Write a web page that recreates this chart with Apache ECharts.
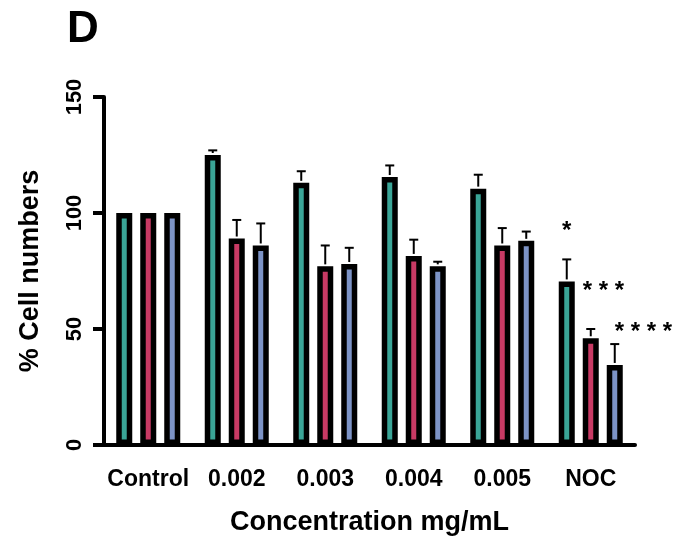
<!DOCTYPE html>
<html>
<head>
<meta charset="utf-8">
<script src="https://cdn.jsdelivr.net/npm/echarts@6/dist/echarts.min.js"></script>
<style>
  html, body { margin: 0; padding: 0; background: #fff; }
  #chart { width: 682px; height: 542px; }
</style>
</head>
<body>
<div id="chart"></div>
<script>
// 資料
const categories = ['Control', '0.002', '0.003', '0.004', '0.005', 'NOC'];
const seriesNames = ['A', 'B', 'C'];
const greenValues = [100, 125, 113, 115.5, 110.5, 70.5];
const redValues = [100, 89, 77, 81.5, 86, 46];
const blueValues = [100, 86, 78, 77, 88, 34.5];
const greenErr = [0, 2, 5, 5, 6, 9.5];
const redErr = [0, 8, 9, 7, 7.5, 4];
const blueErr = [0, 9.5, 7, 2, 4, 9];
// 顯著性標記 (類別, 文字, 高度)
const sigGreen = [['NOC', '*', 93.5]];
const sigRed = [['NOC', '* * *', 67.5]];
const sigBlue = [['NOC', '* * * *', 50]];

const colors = ['#3aa597', '#c83a64', '#7c93c6'];
const font = "'Liberation Sans', Arial, sans-serif";
const barW = 16;
const barGapRatio = 0.5;
const pitch = barW * (1 + barGapRatio);
// 星號水平偏移 (px)
const sigShift = [0, -8, 0];

const chart = echarts.init(document.getElementById('chart'), null, { renderer: 'canvas' });

function barSeries(name, values, color) {
  return {
    name: name,
    type: 'bar',
    data: values,
    barWidth: barW,
    barGap: (barGapRatio * 100) + '%',
    itemStyle: { color: color, borderColor: '#000', borderWidth: 5.5 },
    emphasis: { disabled: true },
    z: 2
  };
}

// 誤差線 (只畫上方)
function errSeries(values, errs, idx) {
  return {
    type: 'custom',
    data: values.map((v, i) => [i, v, v + errs[i]]),
    renderItem: function (params, api) {
      if (api.value(2) - api.value(1) <= 0) return null;
      const base = api.coord([api.value(0), api.value(1)]);
      const top = api.coord([api.value(0), api.value(2)]);
      const x = base[0] + (idx - 1) * pitch;
      const style = { stroke: '#000', lineWidth: 2 };
      return {
        type: 'group',
        children: [
          { type: 'line', shape: { x1: x, y1: base[1] - 2, x2: x, y2: top[1] }, style: style },
          { type: 'line', shape: { x1: x - 4.5, y1: top[1], x2: x + 4.5, y2: top[1] }, style: style }
        ]
      };
    },
    z: 1,
    silent: true
  };
}

function sigSeries(items, idx) {
  return {
    type: 'custom',
    data: items,
    renderItem: function (params, api) {
      const p = api.coord([items[params.dataIndex][0], items[params.dataIndex][2]]);
      const x = p[0] + (idx - 1) * pitch + sigShift[idx];
      return {
        type: 'text',
        x: x,
        y: p[1] + 3,
        style: {
          text: items[params.dataIndex][1],
          font: 'bold 24px ' + font,
          fill: '#000',
          align: idx === 0 ? 'center' : 'left',
          verticalAlign: 'middle'
        }
      };
    },
    silent: true
  };
}

const option = {
  animation: false,
  title: {
    text: 'D',
    left: 62,
    top: 3,
    textStyle: { fontFamily: font, fontWeight: 'bold', fontSize: 44, color: '#000' }
  },
  grid: { left: 104, right: 47, top: 97, bottom: 97 },
  xAxis: {
    type: 'category',
    data: categories,
    name: 'Concentration mg/mL',
    nameLocation: 'middle',
    nameGap: 64,
    nameTextStyle: { fontFamily: font, fontWeight: 'bold', fontSize: 27, color: '#000' },
    axisLine: { lineStyle: { color: '#000', width: 4 } },
    axisTick: { alignWithLabel: true, length: 15, lineStyle: { color: '#000', width: 4 } },
    axisLabel: { interval: 0, fontFamily: font, fontWeight: 'bold', fontSize: 23, color: '#000', margin: 23 }
  },
  yAxis: {
    type: 'value',
    min: 0,
    max: 150,
    interval: 50,
    name: '% Cell numbers',
    nameLocation: 'middle',
    nameGap: 60,
    nameTextStyle: { fontFamily: font, fontWeight: 'bold', fontSize: 27, color: '#000' },
    axisLine: { show: true, lineStyle: { color: '#000', width: 4 } },
    axisTick: { show: true, length: 11, lineStyle: { color: '#000', width: 4 } },
    axisLabel: { rotate: 90, fontFamily: font, fontWeight: 'bold', fontSize: 22, color: '#000', margin: 18 },
    splitLine: { show: false }
  },
  series: [
    barSeries(seriesNames[0], greenValues, colors[0]),
    barSeries(seriesNames[1], redValues, colors[1]),
    barSeries(seriesNames[2], blueValues, colors[2]),
    errSeries(greenValues, greenErr, 0),
    errSeries(redValues, redErr, 1),
    errSeries(blueValues, blueErr, 2),
    sigSeries(sigGreen, 0),
    sigSeries(sigRed, 1),
    sigSeries(sigBlue, 2)
  ]
};

chart.setOption(option);
</script>
</body>
</html>
